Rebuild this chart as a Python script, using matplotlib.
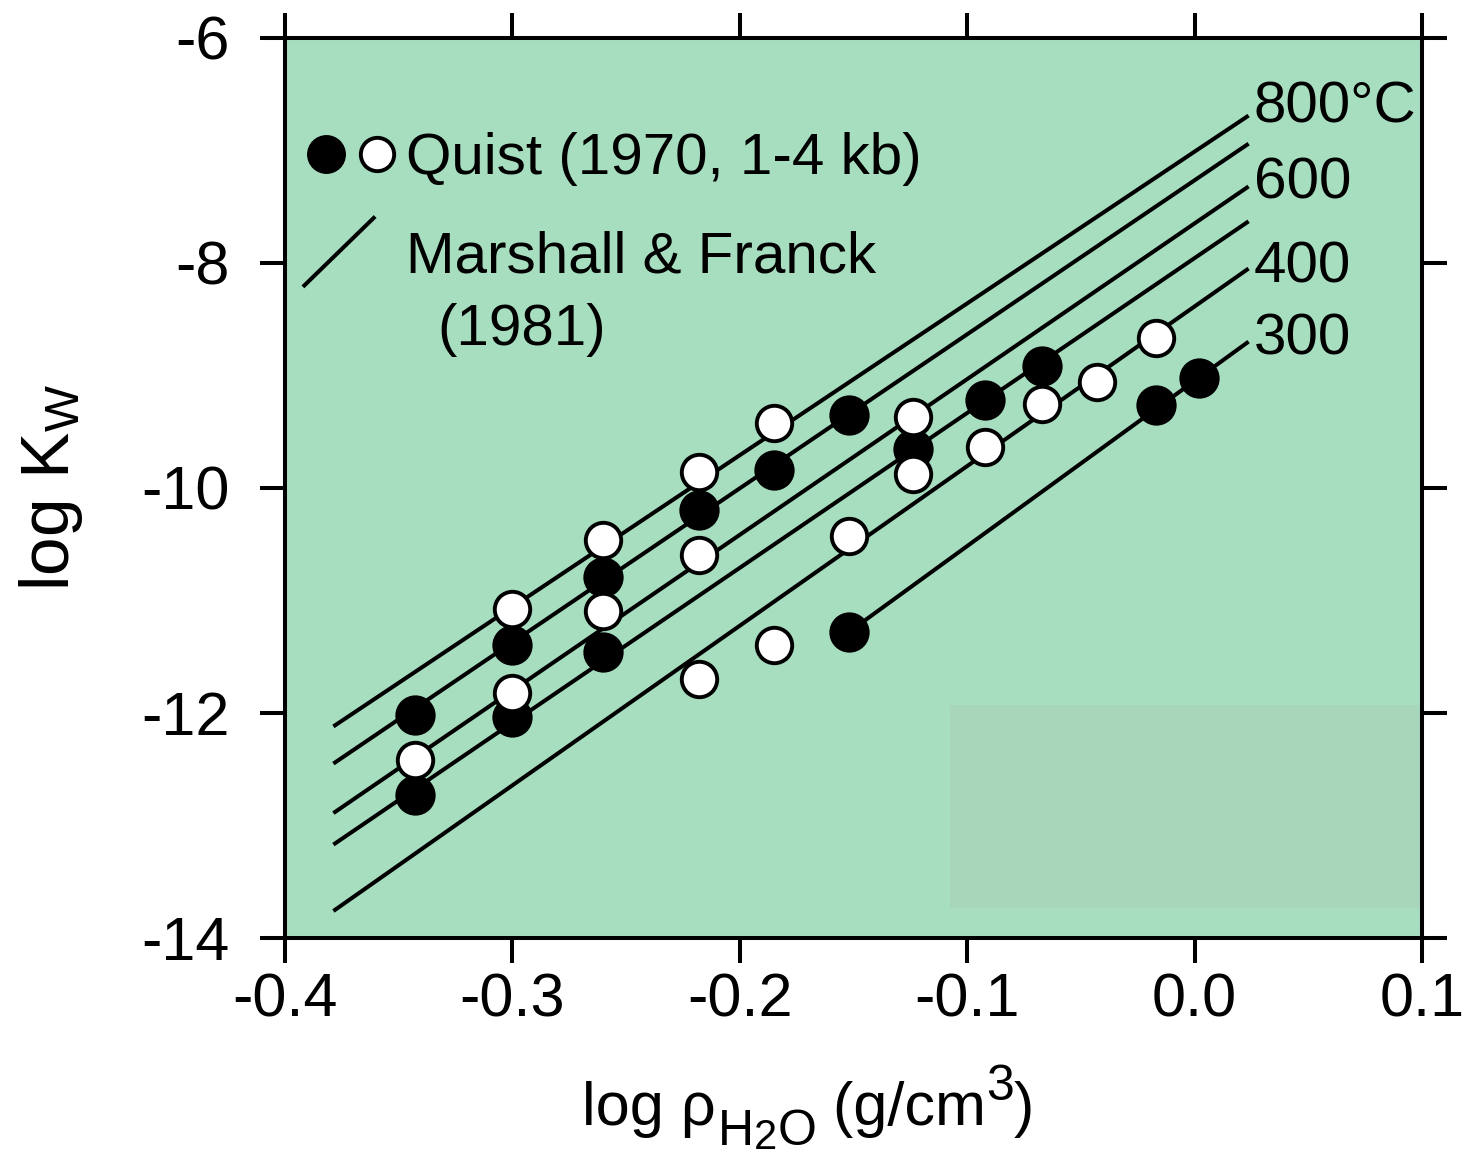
import matplotlib
matplotlib.use('Agg')
import matplotlib.pyplot as plt
from matplotlib.patches import Rectangle

# Quist (1970) data, filled and open circles
filled_x = [-0.343, -0.343, -0.300, -0.300, -0.260, -0.260, -0.218, -0.185,
            -0.152, -0.152, -0.124, -0.092, -0.067, -0.017, 0.002]
filled_y = [-12.02, -12.73, -11.40, -12.04, -10.79, -11.46, -10.20, -9.84,
            -9.35, -11.28, -9.65, -9.22, -8.92, -9.26, -9.02]
open_x = [-0.343, -0.300, -0.300, -0.260, -0.260, -0.218, -0.218, -0.218,
          -0.185, -0.185, -0.152, -0.124, -0.124, -0.092, -0.067, -0.043, -0.017]
open_y = [-12.42, -11.08, -11.82, -10.46, -11.09, -9.86, -10.60, -11.70,
          -9.42, -11.40, -10.43, -9.37, -9.88, -9.64, -9.25, -9.06, -8.67]

# Marshall & Franck (1981) isotherms
temps = [800, 700, 600, 500, 400, 300]
line_x0 = [-0.378, -0.378, -0.378, -0.378, -0.378, -0.152]
line_x1 = [0.023, 0.023, 0.023, 0.023, 0.023, 0.023]
line_y0 = [-12.11, -12.44, -12.88, -13.16, -13.75, -11.28]
line_y1 = [-6.70, -6.95, -7.33, -7.64, -8.06, -8.71]

label_text = ['800°C', '600', '400', '300']
label_y = [-6.62, -7.29, -8.04, -8.68]

plt.rcParams['font.family'] = ['Liberation Sans', 'DejaVu Sans']
plt.rcParams['mathtext.fontset'] = 'custom'
plt.rcParams['mathtext.rm'] = 'Liberation Sans'
plt.rcParams['mathtext.it'] = 'Liberation Sans'
plt.rcParams['axes.unicode_minus'] = False

fs = 42
bg = '#a8dec0'
W, H = 1473, 1160

fig = plt.figure(figsize=(W / 100, H / 100), dpi=100)
ax = fig.add_axes([0.1935, 0.1914, 0.7719, 0.7759])
ax.set_facecolor(bg)
ax.add_patch(Rectangle((-0.1076, -13.73), 0.2076, 1.80, color='#a7d6ba', zorder=0, lw=0))

for x0, x1, y0, y1 in zip(line_x0, line_x1, line_y0, line_y1):
    ax.plot([x0, x1], [y0, y1], color='black', lw=2.9, zorder=2)

ax.plot(filled_x, filled_y, 'o', ms=27, mfc='black', mec='black', mew=2, zorder=3)
ax.plot(open_x, open_y, 'o', ms=25.5, mfc='white', mec='black', mew=2.8, zorder=3)

for t, yy in zip(label_text, label_y):
    ax.text(0.026, yy, t, fontsize=fs, va='center', ha='left')

# legend
ax.plot([-0.382], [-7.03], 'o', ms=27, mfc='black', mec='black', zorder=3)
ax.plot([-0.3595], [-7.03], 'o', ms=24, mfc='white', mec='black', mew=2.8, zorder=3)
ax.text(-0.347, -7.08, 'Quist (1970, 1-4 kb)', fontsize=fs, va='center', ha='left')
ax.plot([-0.3915, -0.361], [-8.2, -7.6], color='black', lw=2.9)
ax.text(-0.347, -7.95, 'Marshall & Franck', fontsize=fs, va='center', ha='left')
ax.text(-0.333, -8.6, '(1981)', fontsize=fs, va='center', ha='left')

ax.set_xlim(-0.4, 0.1)
ax.set_ylim(-14, -6)
ax.set_xticks([-0.4, -0.3, -0.2, -0.1, 0.0, 0.1])
ax.set_xticklabels(['-0.4', '-0.3', '-0.2', '-0.1', '0.0', '0.1'])
ax.set_yticks([-14, -12, -10, -8, -6])
ax.tick_params(direction='out', length=18, width=2.9, labelsize=44,
               top=True, right=True, pad=7)
ax.tick_params(axis='y', pad=22)
for s in ax.spines.values():
    s.set_linewidth(2.9)

ax.set_ylabel(r'log K$_\mathrm{W}$', fontsize=50, labelpad=40)

# x label built piece by piece: subscript H2O lowered
renderer = fig.canvas.get_renderer()


def put(x, y, s, size=44):
    t = fig.text(x / W, 1 - y / H, s, fontsize=size, va='baseline', ha='left')
    return x + t.get_window_extent(renderer).width


xx = 582
xx = put(xx, 1125, 'log ρ')
xx = put(xx + 2, 1145, 'H', 36)
xx = put(xx, 1149, '2', 30)
xx = put(xx, 1145, 'O', 36)
xx = put(xx, 1125, ' (g/cm')
xx = put(xx, 1100, '3', 36)
put(xx, 1125, ')')

plt.savefig('out.png', dpi=100)
